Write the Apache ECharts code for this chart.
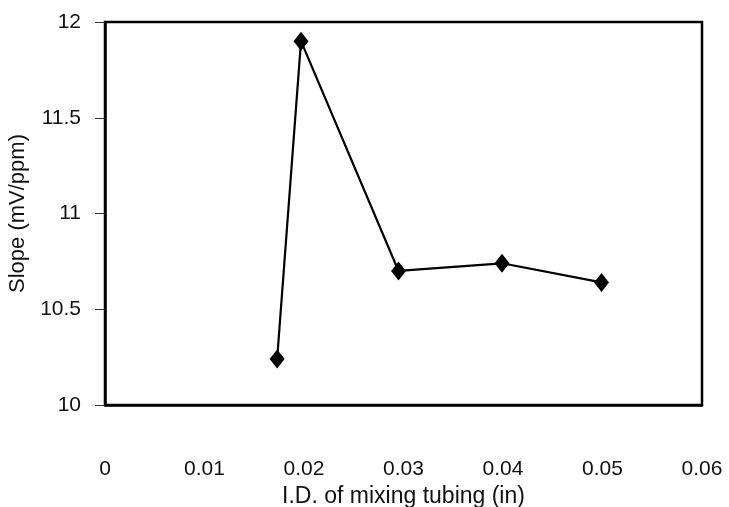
<!DOCTYPE html>
<html>
<head>
<meta charset="utf-8">
<title>Slope vs I.D. of mixing tubing</title>
<script src="https://cdn.jsdelivr.net/npm/echarts@6/dist/echarts.min.js"></script>
<style>
  html, body { margin: 0; padding: 0; background: #fff; }
  #main { width: 729px; height: 507px; }
</style>
</head>
<body>
<div id="main"></div>
<script>
// values
var tubingId = [0.0173, 0.0197, 0.0295, 0.0399, 0.0499];
var slope = [10.24, 11.90, 10.70, 10.74, 10.64];
var xTicks = [0, 0.01, 0.02, 0.03, 0.04, 0.05, 0.06];
var yTicks = [10, 10.5, 11, 11.5, 12];

var points = [];
for (var i = 0; i < tubingId.length; i++) {
    points.push([tubingId[i], slope[i]]);
}

var myChart = echarts.init(document.getElementById('main'));
var fontName = 'Liberation Sans, Arial, sans-serif';

var option = {
    backgroundColor: '#fff',
    animation: false,
    grid: {
        left: 105, right: 27, top: 22, bottom: 102,
        outerBoundsMode: 'none',
        containLabel: false,
        show: true,
        borderColor: '#000',
        borderWidth: 2.5,
        backgroundColor: 'transparent'
    },
    xAxis: {
        type: 'value',
        min: xTicks[0],
        max: xTicks[xTicks.length - 1],
        interval: 0.01,
        name: 'I.D. of mixing tubing (in)',
        nameLocation: 'middle',
        nameGap: 76,
        nameTextStyle: { fontFamily: fontName, fontSize: 23, color: '#111' },
        axisLine: { show: true, lineStyle: { color: '#000', width: 2.5 } },
        axisTick: { show: false },
        splitLine: { show: false },
        axisLabel: {
            margin: 54,
            fontFamily: fontName,
            fontSize: 21,
            color: '#111',
            formatter: function (v) { return String(+v.toFixed(2)); }
        }
    },
    yAxis: {
        type: 'value',
        min: yTicks[0],
        max: yTicks[yTicks.length - 1],
        interval: 0.5,
        name: 'Slope (mV/ppm)',
        nameLocation: 'middle',
        nameGap: 70,
        nameTextStyle: { fontFamily: fontName, fontSize: 22, color: '#111' },
        axisLine: { show: true, lineStyle: { color: '#000', width: 2.5 } },
        axisTick: { show: true, inside: false, length: 10, lineStyle: { color: '#333', width: 1 } },
        splitLine: { show: false },
        axisLabel: {
            margin: 24,
            fontFamily: fontName,
            fontSize: 21,
            color: '#111'
        }
    },
    series: [{
        type: 'line',
        data: points,
        symbol: 'diamond',
        symbolSize: [15, 19],
        itemStyle: { color: '#000' },
        lineStyle: { color: '#000', width: 2.2 }
    }]
};
myChart.setOption(option);
</script>
</body>
</html>
